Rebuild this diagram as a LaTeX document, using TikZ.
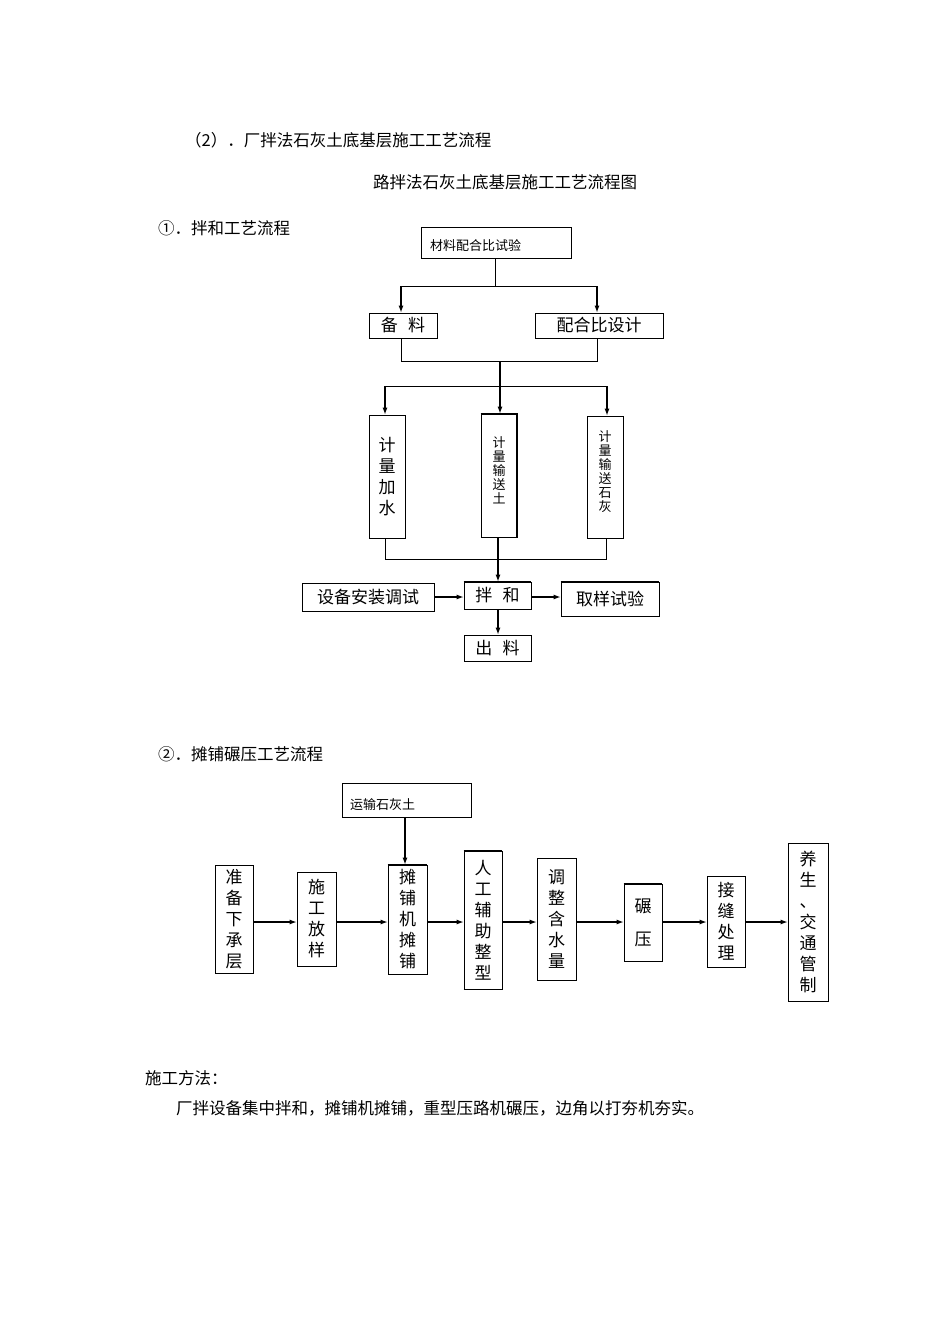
\documentclass[tikz,border=0pt]{standalone}
\usepackage{fontspec}
\setmainfont{Noto Sans CJK SC}
\usetikzlibrary{arrows.meta}
\tikzset{
 bx/.style={draw,line width=0.8pt,inner sep=0pt,align=center,font=\fontsize{17}{19}\selectfont},
 sbx/.style={bx,font=\fontsize{13}{14}\selectfont},
 vbx/.style={bx,font=\fontsize{17}{21}\selectfont},
 arr/.style={line width=1.1pt,-{Latex[length=7pt,width=5pt]}},
 ln/.style={line width=0.8pt},
 txt/.style={anchor=west,inner sep=0pt,font=\fontsize{16.5}{18}\selectfont}
}
\newcommand{\B}[6][bx]{\node[#1,minimum width={(#4)-(#2)},minimum height={(#5)-(#3)}] (#6) at ({((#2)+(#4))/2},{((#3)+(#5))/2})}
\begin{document}
\begin{tikzpicture}[x=1pt,y=-1pt]
\useasboundingbox (0,0) rectangle (950,1344);
\node[txt] (h1) at (185,140) {（2）．厂拌法石灰土底基层施工工艺流程};
\node[txt,anchor=center] (h2) at (505,182) {路拌法石灰土底基层施工工艺流程图};
\node[txt] (h3) at (158,228) {①．拌和工艺流程};
\node[txt] (h4) at (158,754) {②．摊铺碾压工艺流程};
\node[txt] (h5) at (145,1078) {施工方法：};
\node[txt] (h6) at (176,1108) {厂拌设备集中拌和，摊铺机摊铺，重型压路机碾压，边角以打夯机夯实。};
% diagram 1
\B[sbx]{421}{227}{571}{258}{a} {};
\node[anchor=west,inner sep=0pt,font=\fontsize{13}{14}\selectfont] (at) at (430,246) {材料配合比试验};
\B{369}{313}{437}{338}{b1} {备\hspace{0.6em}料};
\B{535}{313}{663}{338}{b2} {配合比设计};
\B[vbx]{369}{415}{405}{538}{c1} {计\\量\\加\\水};
\B[sbx]{481}{414}{517}{537}{c2} {\\[-48pt]计\\量\\输\\送\\土};
\draw[line width=2pt] (c2.north west)--(c2.north east)--(c2.south east);
\B[sbx]{587}{416}{623}{538}{c3} {\\[-30pt]计\\量\\输\\送\\石\\灰};
\B{302}{583}{434}{611}{d1} {设备安装调试};
\B{464}{582}{531}{609}{d2} {拌\hspace{0.6em}和};
\draw[line width=1.8pt] (d2.north west)--(d2.north east);
\B{561}{582}{659}{616}{d3} {取样试验};
\draw[line width=1.8pt] (d3.north west)--(d3.north east);
\B{464}{635}{531}{661}{d4} {出\hspace{0.6em}料};
\coordinate (j1) at (495,286);
\draw[ln] (a.south -| j1) -- (j1);
\draw[ln] (401,286) -- (597,286);
\draw[arr] (401,286) -- (b1.north -| 401,0);
\draw[arr] (597,286) -- (b2.north -| 597,0);
\draw[ln] (b1.south -| 401,0) -- (401,361) -- (597,361) -- (b2.south -| 597,0);
\draw[ln] (385,386) -- (607,386);
\draw[arr] (500,361) -- (c2.north -| 500,0);
\draw[arr] (385,386) -- (c1.north -| 385,0);
\draw[arr] (607,386) -- (c3.north -| 607,0);
\draw[ln] (c1.south -| 385,0) -- (385,559) -- (606,559) -- (c3.south -| 606,0);
\draw[arr] (c2.south -| 498,0) -- (d2.north -| 498,0);
\draw[arr] (d1.east |- 0,597) -- (d2.west |- 0,597);
\draw[arr] (d2.east |- 0,597) -- (d3.west |- 0,597);
\draw[arr] (d2.south -| 498,0) -- (d4.north -| 498,0);
% diagram 2
\B[sbx]{342}{783}{471}{817}{t} {};
\node[anchor=west,inner sep=0pt,font=\fontsize{13}{14}\selectfont] (tt) at (350,805) {运输石灰土};
\B[vbx]{215}{865}{253}{973}{e1} {准\\备\\下\\承\\层};
\B[vbx]{297}{872}{336}{966}{e2} {施\\工\\放\\样};
\B[vbx]{388}{865}{427}{974}{e3} {摊\\铺\\机\\摊\\铺};
\draw[line width=1.8pt] (e3.north west)--(e3.north east);
\B[vbx]{464}{851}{502}{989}{e4} {人\\工\\辅\\助\\整\\型};
\draw[line width=1.8pt] (e4.north west)--(e4.north east) (e4.south west)--(e4.south east);
\B[vbx]{537}{858}{576}{980}{e5} {调\\整\\含\\水\\量};
\B[vbx]{624}{884}{662}{961}{e6} {碾\\[12pt]压};
\draw[line width=1.8pt] (e6.north west)--(e6.north east);
\B[vbx]{707}{876}{745}{967}{e7} {接\\缝\\处\\理};
\B[vbx]{788}{843}{828}{1001}{e8} {养\\生\\、\\交\\通\\管\\制};
\draw[arr] (t.south -| 405,0) -- (e3.north -| 405,0);
\foreach \p/\q in {e1/e2,e2/e3,e3/e4,e4/e5,e5/e6,e6/e7,e7/e8}
  \draw[arr] (\p.east |- 0,922) -- (\q.west |- 0,922);
\end{tikzpicture}
\end{document}
